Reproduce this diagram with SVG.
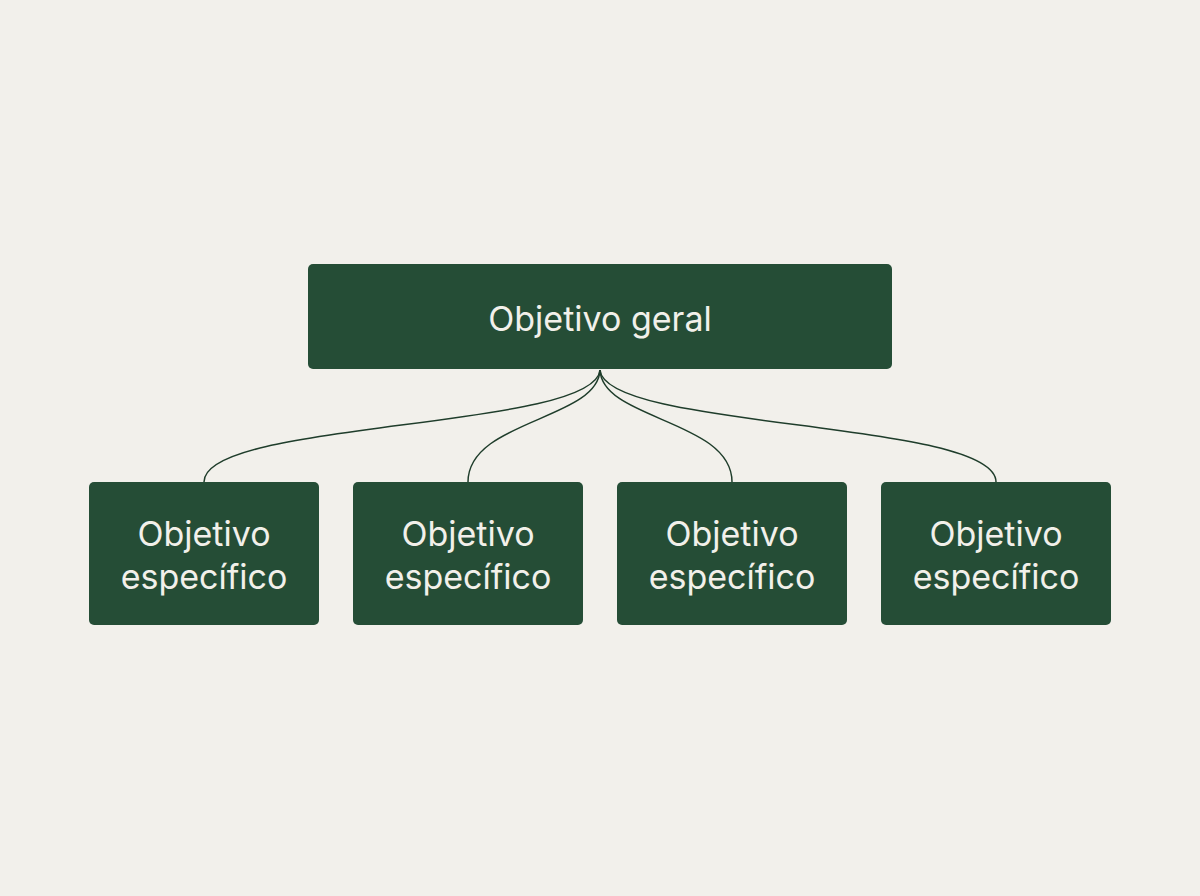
<svg xmlns="http://www.w3.org/2000/svg" width="1200" height="896" viewBox="0 0 1200 896">
<style>
.box{fill:#254d36;}
.t{font-family:Inter,"Noto Sans",sans-serif;font-size:34px;fill:#f2f0ea;text-anchor:middle;dominant-baseline:central;}
.c{fill:none;stroke:#1f3d2b;stroke-width:1.5;}
</style>
<rect width="1200" height="896" fill="#f2f0eb"/>
<g id="connectors">
<path class="c" d="M600,370 C595,430 204,420 204,482"/>
<path class="c" d="M600,370 C598,420 468,420 468,482"/>
<path class="c" d="M600,370 C602,420 732,420 732,482"/>
<path class="c" d="M600,370 C605,430 996,420 996,482"/>
</g>
<g id="root"><rect class="box" x="308" y="264" width="584" height="105" rx="5"/><text class="t" x="600" y="318">Objetivo geral</text></g>
<g id="n1"><rect class="box" x="89" y="482" width="230" height="143" rx="5"/><text class="t" x="204" y="533">Objetivo</text><text class="t" x="204" y="576">específico</text></g>
<g id="n2"><rect class="box" x="353" y="482" width="230" height="143" rx="5"/><text class="t" x="468" y="533">Objetivo</text><text class="t" x="468" y="576">específico</text></g>
<g id="n3"><rect class="box" x="617" y="482" width="230" height="143" rx="5"/><text class="t" x="732" y="533">Objetivo</text><text class="t" x="732" y="576">específico</text></g>
<g id="n4"><rect class="box" x="881" y="482" width="230" height="143" rx="5"/><text class="t" x="996" y="533">Objetivo</text><text class="t" x="996" y="576">específico</text></g>
</svg>
